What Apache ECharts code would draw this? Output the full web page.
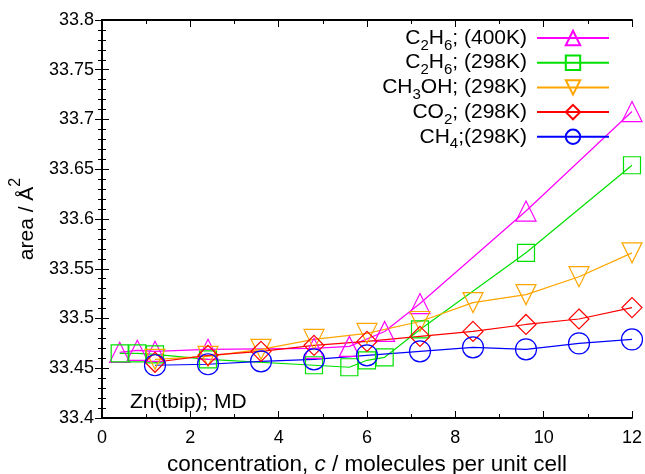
<!DOCTYPE html>
<html>
<head>
<meta charset="utf-8">
<script src="https://cdn.jsdelivr.net/npm/echarts@6/dist/echarts.min.js"></script>
<style>
  html, body { margin: 0; padding: 0; background: #fff; }
  #main { width: 645px; height: 474px; }
</style>
</head>
<body>
<div id="main"></div>
<script>
// C2H6 at 400K
var c2h6HotX = [0.4, 0.8, 1.2, 2.4, 4.8, 5.6, 6.4, 7.2, 9.6, 12];
var c2h6HotY = [33.466, 33.468, 33.467, 33.469, 33.470, 33.472, 33.487, 33.515, 33.608, 33.708];
// C2H6 at 298K
var c2h6X = [0.4, 0.8, 1.2, 2.4, 4.8, 5.6, 6.0, 6.4, 7.2, 9.6, 12];
var c2h6Y = [33.465, 33.465, 33.464, 33.459, 33.453, 33.451, 33.458, 33.461, 33.489, 33.566, 33.654];
// CH3OH at 298K
var ch3ohX = [1.2, 2.4, 3.6, 4.8, 6.0, 7.2, 8.4, 9.6, 10.8, 12];
var ch3ohY = [33.459, 33.462, 33.469, 33.479, 33.485, 33.497, 33.516, 33.524, 33.542, 33.566];
// CO2 at 298K
var co2X = [1.2, 2.4, 3.6, 4.8, 6.0, 7.2, 8.4, 9.6, 10.8, 12];
var co2Y = [33.456, 33.463, 33.467, 33.473, 33.477, 33.482, 33.487, 33.494, 33.4995, 33.511];
// CH4 at 298K
var ch4X = [1.2, 2.4, 3.6, 4.8, 6.0, 7.2, 8.4, 9.6, 10.8, 12];
var ch4Y = [33.453, 33.454, 33.457, 33.459, 33.463, 33.467, 33.471, 33.469, 33.475, 33.479];

var xTicks = [0, 2, 4, 6, 8, 10, 12];
var yTicks = [33.4, 33.45, 33.5, 33.55, 33.6, 33.65, 33.7, 33.75, 33.8];

var legendNames = ['c2h6_400', 'c2h6_298', 'ch3oh', 'co2', 'ch4'];
var legendLabels = {
    c2h6_400: 'C{sub|2}H{sub|6}; (400K)',
    c2h6_298: 'C{sub|2}H{sub|6}; (298K)',
    ch3oh: 'CH{sub|3}OH; (298K)',
    co2: 'CO{sub|2}; (298K)',
    ch4: 'CH{sub|4};(298K)'
};

function zip(xs, ys) {
    return xs.map(function (x, i) { return [x, ys[i]]; });
}

var font = 'Liberation Sans, Arial, sans-serif';

function makeSeries(name, xs, ys, color, symbol, rotate) {
    return {
        name: name,
        type: 'line',
        data: zip(xs, ys),
        symbol: symbol,
        symbolSize: symbol === 'circle' ? 21 : (symbol === 'rect' ? 17 : 20),
        symbolRotate: rotate || 0,
        showAllSymbol: true,
        lineStyle: { color: color, width: 1.2 },
        itemStyle: { color: 'rgba(0,0,0,0)', borderColor: color, borderWidth: 1.2 },
        emphasis: { disabled: true },
        animation: false
    };
}

var chartDom = document.getElementById('main');
var myChart = echarts.init(chartDom);
var option;

var frame = { show: true, lineStyle: { color: '#000', width: 2 } };

option = {
    backgroundColor: '#fff',
    animation: false,
    grid: { left: 102, right: 13, top: 20, bottom: 56, outerBoundsMode: 'none' },
    legend: {
        data: legendNames,
        orient: 'vertical',
        right: 30,
        top: 18,
        align: 'right',
        itemWidth: 72,
        itemHeight: 18,
        itemGap: -5.3,
        formatter: function (n) { return legendLabels[n]; },
        textStyle: {
            fontFamily: font,
            fontSize: 21,
            lineHeight: 22,
            color: '#000',
            padding: [0, 5, 0, 0],
            rich: {
                sub: { fontFamily: font, fontSize: 15, lineHeight: 22, padding: [15, 0, 0, 0], color: '#000' }
            }
        }
    },
    xAxis: [{
        type: 'value',
        min: 0,
        max: 12,
        interval: 2,
        name: 'concentration, {it|c} / molecules per unit cell',
        nameLocation: 'middle',
        nameGap: 35,
        nameMoveOverlap: false,
        nameTextStyle: {
            fontFamily: font, fontSize: 22.5, color: '#000',
            rich: { it: { fontFamily: font, fontSize: 22.5, fontStyle: 'italic', color: '#000' } }
        },
        axisLine: frame,
        axisTick: { show: true, inside: true, length: 7, lineStyle: { color: '#000', width: 1 } },
        minorTick: { show: true, splitNumber: 2, length: 4, lineStyle: { color: '#000' } },
        axisLabel: {
            fontFamily: font, fontSize: 18, color: '#000', margin: 11,
            formatter: function (v) { return xTicks.indexOf(v) >= 0 ? String(v) : ''; }
        },
        splitLine: { show: false }
    }, {
        type: 'value',
        position: 'top',
        min: 0,
        max: 12,
        interval: 2,
        axisLine: frame,
        axisTick: { show: true, inside: true, length: 7, lineStyle: { color: '#000' } },
        minorTick: { show: true, splitNumber: 2, length: 4, lineStyle: { color: '#000' } },
        axisLabel: { show: false },
        splitLine: { show: false }
    }],
    yAxis: [{
        type: 'value',
        min: 33.4,
        max: 33.8,
        interval: 0.05,
        name: 'area / Å{sup|2}',
        nameLocation: 'middle',
        nameGap: 64,
        nameRotate: 90,
        nameMoveOverlap: false,
        nameTextStyle: {
            fontFamily: font, fontSize: 21, lineHeight: 22, color: '#000',
            rich: { sup: { fontFamily: font, fontSize: 16, lineHeight: 22, padding: [0, 0, 22, 0], color: '#000' } }
        },
        axisLine: frame,
        axisTick: { show: true, inside: true, length: 7, lineStyle: { color: '#000' } },
        minorTick: { show: true, splitNumber: 5, length: 4, lineStyle: { color: '#000' } },
        axisLabel: {
            fontFamily: font, fontSize: 18, color: '#000', margin: 8,
            formatter: function (v) { return String(+v.toFixed(2)); }
        },
        splitLine: { show: false }
    }, {
        type: 'value',
        position: 'right',
        min: 33.4,
        max: 33.8,
        interval: 0.05,
        axisLine: frame,
        axisTick: { show: true, inside: true, length: 7, lineStyle: { color: '#000' } },
        minorTick: { show: true, splitNumber: 5, length: 4, lineStyle: { color: '#000' } },
        axisLabel: { show: false },
        splitLine: { show: false }
    }],
    graphic: [{
        type: 'text',
        left: 130,
        top: 392,
        style: { text: 'Zn(tbip); MD', fontFamily: font, fontSize: 21, fill: '#000' }
    }],
    series: [
        makeSeries('c2h6_400', c2h6HotX, c2h6HotY, '#ff00ff', 'triangle'),
        makeSeries('c2h6_298', c2h6X, c2h6Y, '#00e000', 'rect'),
        makeSeries('ch3oh', ch3ohX, ch3ohY, '#ffa500', 'triangle', 180),
        makeSeries('co2', co2X, co2Y, '#ff0000', 'diamond'),
        makeSeries('ch4', ch4X, ch4Y, '#0000ff', 'circle')
    ]
};

option && myChart.setOption(option);
</script>
</body>
</html>
